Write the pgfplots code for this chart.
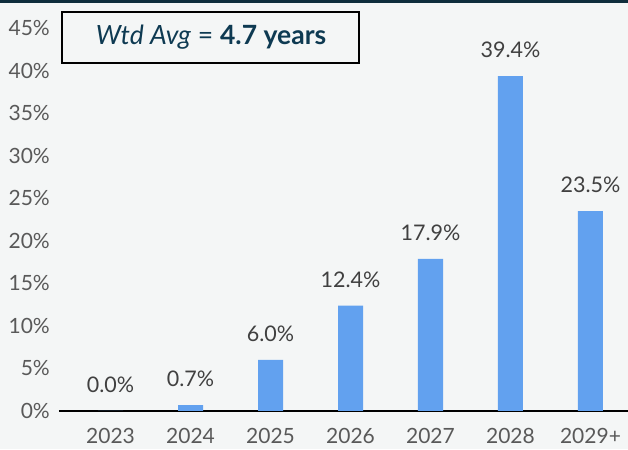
\documentclass[border=0pt]{standalone}
\usepackage{fontspec}
\setmainfont{Lato}
\usepackage{pgfplots}
\pgfplotsset{compat=1.18}
\definecolor{bg}{HTML}{F4F6F6}
\definecolor{band}{HTML}{0F2D3C}
\definecolor{barblue}{HTML}{62A1EF}
\definecolor{navy}{HTML}{0E3A52}
\definecolor{tickgray}{HTML}{595959}
\definecolor{lblgray}{HTML}{404040}
\begin{document}
\begin{tikzpicture}[x=1pt,y=1pt]
\fill[bg] (0,0) rectangle (628,449);
\fill[band] (0,446) rectangle (628,449);
\begin{axis}[
  at={(59pt,38pt)}, anchor=south west,
  scale only axis, width=569pt, height=382.6pt,
  xmin=-0.644, xmax=6.469, ymin=0, ymax=45,
  ybar, bar width=25pt,
  xtick={0,1,2,3,4,5,6},
  xticklabels={2023,2024,2025,2026,2027,2028,2029+},
  ytick={0,5,...,45},
  /pgf/number format/assume math mode=true,
  yticklabel={\pgfmathprintnumber{\tick}\%},
  axis x line*=bottom, axis y line*=left,
  y axis line style={draw=none},
  x axis line style={line width=1.8pt, black, -},
  tick style={draw=none},
  ticklabel style={font=\fontsize{21}{25}\selectfont, text=tickgray, inner sep=0pt},
  yticklabel style={xshift=-9pt},
  xticklabel style={yshift=-13pt, anchor=north},
  nodes near coords={\pgfmathprintnumber[fixed,fixed zerofill,precision=1]{\pgfplotspointmeta}\%},
  every node near coord/.append style={font=\fontsize{21.5}{26}\selectfont, text=lblgray, inner sep=0pt, anchor=south, yshift=18pt},
]
\addplot[fill=barblue, draw=none] coordinates {(0,0) (1,0.7) (2,6.0) (3,12.4) (4,17.9) (5,39.4) (6,23.5)};
\end{axis}
\draw[line width=1.6pt, fill=bg] (62,386) rectangle (359,437);
\node[anchor=base, text=navy, font=\fontsize{26.5}{31}\selectfont] at (211,404) {\textit{Wtd Avg} = \textbf{4.7 years}};
\pgfresetboundingbox
\useasboundingbox (0,0) rectangle (628,449);
\end{tikzpicture}
\end{document}
